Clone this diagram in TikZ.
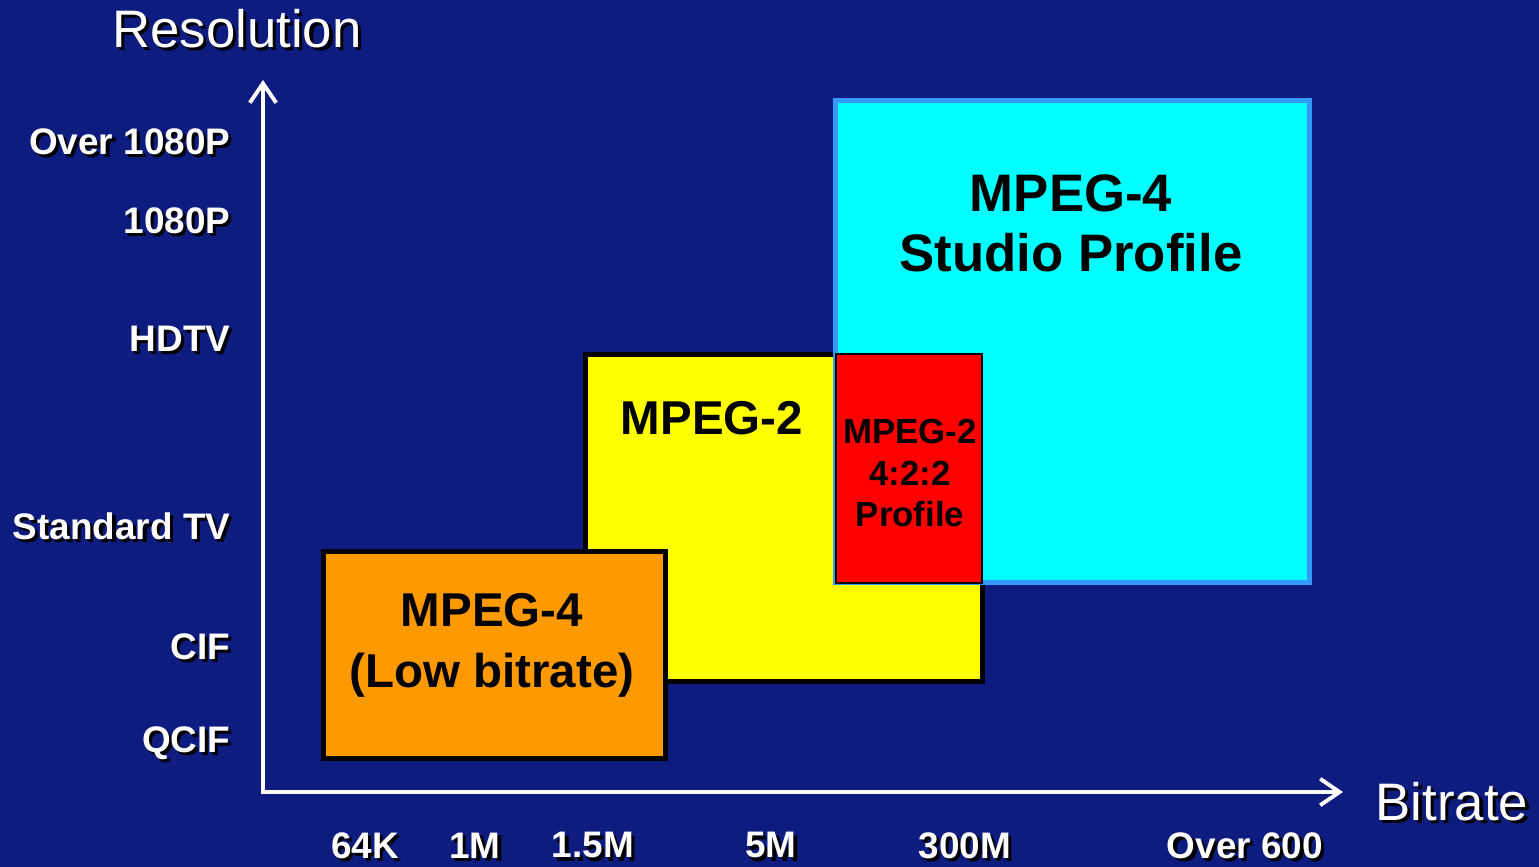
\documentclass[tikz,border=0pt]{standalone}
\usepackage{fontspec}
\setmainfont{Liberation Sans}
\usepackage{xcolor}
\usetikzlibrary{arrows.meta, positioning}

\definecolor{bgdark}{RGB}{14,28,128}
\definecolor{bglight}{RGB}{30,58,172}
\definecolor{cyanfill}{RGB}{0,255,255}
\definecolor{cyanedge}{RGB}{51,153,255}
\definecolor{yellowfill}{RGB}{255,255,0}
\definecolor{orangefill}{RGB}{255,153,0}
\definecolor{redfill}{RGB}{255,0,0}

% white text with a small black drop shadow
\newcommand\shadowed[1]{\makebox[0pt][l]{\kern0.9pt\raisebox{-0.9pt}{\textcolor{black}{#1}}}#1}

\begin{document}
\begin{tikzpicture}[
  x = 0.01cm, y = -0.01cm,
  axis/.style  = {white, line width=1.1pt,
                  {Straight Barb[length=5.5pt, width=7.5pt]}-{Straight Barb[length=5.5pt, width=7.5pt]}},
  title/.style = {text=white, inner sep=0, font=\fontsize{15}{18}\selectfont},
  ylab/.style  = {anchor=east, text=white, inner sep=0, font=\bfseries\fontsize{10.5}{12}\selectfont},
  xlab/.style  = {text=white, inner sep=0, font=\bfseries\fontsize{10.5}{12}\selectfont},
  box/.style   = {draw, line width=1.4pt, anchor=north west, inner sep=0, outer sep=0},
  boxtext/.style = {align=center, text=black, inner sep=0, font=\bfseries}
]
  % background
  \shade[left color=bgdark, middle color=bglight, right color=bgdark]
    (0,0) rectangle (1539,866);

  % axes
  \coordinate (ytip)   at (263,80);
  \coordinate (origin) at (263,792);
  \coordinate (xtip)   at (1343,792);
  \draw[axis] (ytip) -- (origin) -- (xtip);

  \node[title] (res) at (237,30)  {\shadowed{Resolution}};
  \node[title] (bit) at (1452,803) {\shadowed{Bitrate}};

  % resolution levels
  \node[ylab] (r1) at (231,143) {\shadowed{Over 1080P}};
  \node[ylab] (r2) at (231,222) {\shadowed{1080P}};
  \node[ylab] (r3) at (231,340) {\shadowed{HDTV}};
  \node[ylab] (r4) at (231,528) {\shadowed{Standard TV}};
  \node[ylab] (r5) at (231,648) {\shadowed{CIF}};
  \node[ylab] (r6) at (231,745) {\shadowed{QCIF}};

  % bitrate levels
  \node[xlab] (b1) at (365,847)  {\shadowed{64K}};
  \node[xlab] (b2) at (475,847)  {\shadowed{1M}};
  \node[xlab] (b3) at (593,847)  {\shadowed{1.5M}};
  \node[xlab] (b4) at (771,847)  {\shadowed{5M}};
  \node[xlab] (b5) at (965,847)  {\shadowed{300M}};
  \node[xlab] (b6) at (1245,847) {\shadowed{Over 600}};

  % coding ranges
  \node[box, fill=yellowfill, minimum width=3.97cm, minimum height=3.27cm] (mp2) at (585.5,354.5) {};
  \node[box, draw=cyanedge, fill=cyanfill, minimum width=4.74cm, minimum height=4.82cm] (studio) at (835.5,100.5) {};
  \node[box, line width=0.6pt, fill=redfill, minimum width=1.46cm, minimum height=2.29cm] (prof422) at (836,354) {};
  \node[box, fill=orangefill, minimum width=3.42cm, minimum height=2.07cm] (mp4low) at (323.5,551.5) {};

  \node[boxtext, font=\bfseries\fontsize{15}{17}\selectfont] (studiot) at (1071,223) {MPEG-4\\Studio Profile};
  \node[boxtext, font=\bfseries\fontsize{13.5}{16}\selectfont] (mp2t) at (712,418) {MPEG-2};
  \node[boxtext, font=\bfseries\fontsize{9.9}{11.7}\selectfont] (prof422t) at (910,473) {MPEG-2\\4:2:2\\Profile};
  \node[boxtext, font=\bfseries\fontsize{13.5}{17.4}\selectfont] (mp4lowt) at (492,645) {MPEG-4\\(Low bitrate)};
\end{tikzpicture}
\end{document}
